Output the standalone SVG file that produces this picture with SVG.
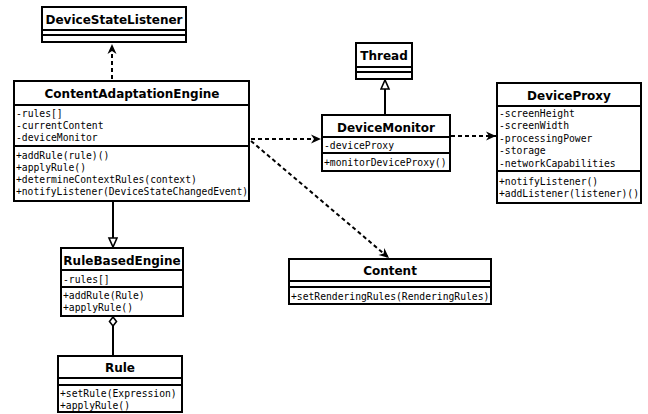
<svg xmlns="http://www.w3.org/2000/svg" width="648" height="414" viewBox="0 0 648 414">
<defs>
<style>
.box{fill:#fff;stroke:#000;stroke-width:2}
.sep{stroke:#000;stroke-width:2}
.t{font-family:"DejaVu Sans",sans-serif;font-weight:bold;font-size:12px;text-anchor:middle;fill:#000}
.m{font-family:"DejaVu Sans Mono",monospace;font-size:9.7px;fill:#000}
.dash{fill:none;stroke:#000;stroke-width:2;stroke-dasharray:4,3}
.solid{fill:none;stroke:#000;stroke-width:2}
</style>
<marker id="arr" markerUnits="userSpaceOnUse" markerWidth="12" markerHeight="10" refX="11" refY="5" orient="auto">
<path d="M1,0.5 L11,5 L1,9.5 L4,5 z" fill="#000"/>
</marker>
<marker id="tri" markerUnits="userSpaceOnUse" markerWidth="12" markerHeight="12" refX="10" refY="5" orient="auto">
<path d="M1,1 L10,5 L1,9 z" fill="#fff" stroke="#000" stroke-width="1.6"/>
</marker>
<marker id="dia" markerUnits="userSpaceOnUse" markerWidth="12" markerHeight="10" refX="1" refY="4.5" orient="auto">
<path d="M1,4.5 L5.5,1 L10,4.5 L5.5,8 z" fill="#fff" stroke="#000" stroke-width="1.6"/>
</marker>
</defs>

<g id="connectors">
<line class="dash" x1="112" y1="79" x2="112" y2="44" marker-end="url(#arr)"/>
<line class="dash" x1="251" y1="139" x2="321" y2="139" marker-end="url(#arr)"/>
<line class="dash" x1="451" y1="136" x2="496" y2="136" marker-end="url(#arr)"/>
<line class="dash" x1="251" y1="141" x2="389" y2="258" marker-end="url(#arr)"/>
<line class="solid" x1="385" y1="114" x2="385" y2="80" marker-end="url(#tri)"/>
<line class="solid" x1="113" y1="202" x2="113" y2="247" marker-end="url(#tri)"/>
<line class="solid" x1="113" y1="317" x2="113" y2="355" marker-start="url(#dia)"/>
</g>

<g id="DeviceStateListener">
<rect class="box" x="42" y="7" width="144" height="35"/>
<line class="sep" x1="42" y1="30" x2="186" y2="30"/>
<line class="sep" x1="42" y1="35" x2="186" y2="35"/>
<text class="t" x="114" y="23.5">DeviceStateListener</text>
</g>

<g id="ContentAdaptationEngine">
<rect class="box" x="14" y="81" width="235" height="120"/>
<line class="sep" x1="14" y1="105" x2="249" y2="105"/>
<line class="sep" x1="14" y1="146" x2="249" y2="146"/>
<text class="t" x="132" y="98">ContentAdaptationEngine</text>
<text class="m" x="16" y="116.5">-rules[]</text>
<text class="m" x="16" y="128.5">-currentContent</text>
<text class="m" x="16" y="140.5">-deviceMonitor</text>
<text class="m" x="16" y="158.5">+addRule(rule)()</text>
<text class="m" x="16" y="170.5">+applyRule()</text>
<text class="m" x="16" y="182.5">+determineContextRules(context)</text>
<text class="m" x="16" y="195" textLength="232" lengthAdjust="spacingAndGlyphs">+notifyListener(DeviceStateChangedEvent)</text>
</g>

<g id="Thread">
<rect class="box" x="356" y="43" width="56" height="36"/>
<line class="sep" x1="356" y1="67" x2="412" y2="67"/>
<line class="sep" x1="356" y1="72" x2="412" y2="72"/>
<text class="t" x="384" y="60">Thread</text>
</g>

<g id="DeviceMonitor">
<rect class="box" x="322" y="115" width="128" height="56"/>
<line class="sep" x1="322" y1="137" x2="450" y2="137"/>
<line class="sep" x1="322" y1="153" x2="450" y2="153"/>
<text class="t" x="386" y="132">DeviceMonitor</text>
<text class="m" x="324" y="148.5">-deviceProxy</text>
<text class="m" x="324" y="165.5">+monitorDeviceProxy()</text>
</g>

<g id="DeviceProxy">
<rect class="box" x="497" y="83" width="144" height="120"/>
<line class="sep" x1="497" y1="106" x2="641" y2="106"/>
<line class="sep" x1="497" y1="171" x2="641" y2="171"/>
<text class="t" x="569" y="99.5">DeviceProxy</text>
<text class="m" x="499" y="116.5">-screenHeight</text>
<text class="m" x="499" y="129">-screenWidth</text>
<text class="m" x="499" y="141.5">-processingPower</text>
<text class="m" x="499" y="154">-storage</text>
<text class="m" x="499" y="166.5">-networkCapabilities</text>
<text class="m" x="499" y="184.5">+notifyListener()</text>
<text class="m" x="499" y="197">+addListener(listener)()</text>
</g>

<g id="RuleBasedEngine">
<rect class="box" x="61" y="248" width="122" height="68"/>
<line class="sep" x1="61" y1="270" x2="183" y2="270"/>
<line class="sep" x1="61" y1="287" x2="183" y2="287"/>
<text class="t" x="122" y="264.5">RuleBasedEngine</text>
<text class="m" x="63" y="282.5">-rules[]</text>
<text class="m" x="63" y="298.5">+addRule(Rule)</text>
<text class="m" x="63" y="310.5">+applyRule()</text>
</g>

<g id="Rule">
<rect class="box" x="58" y="356" width="124" height="56"/>
<line class="sep" x1="58" y1="378" x2="182" y2="378"/>
<line class="sep" x1="58" y1="385" x2="182" y2="385"/>
<text class="t" x="120" y="372">Rule</text>
<text class="m" x="60" y="396.5">+setRule(Expression)</text>
<text class="m" x="60" y="408.5">+applyRule()</text>
</g>

<g id="Content">
<rect class="box" x="289" y="259" width="202" height="45"/>
<line class="sep" x1="289" y1="281" x2="491" y2="281"/>
<line class="sep" x1="289" y1="287" x2="491" y2="287"/>
<text class="t" x="390" y="275">Content</text>
<text class="m" x="291" y="299.5">+setRenderingRules(RenderingRules)</text>
</g>
</svg>
